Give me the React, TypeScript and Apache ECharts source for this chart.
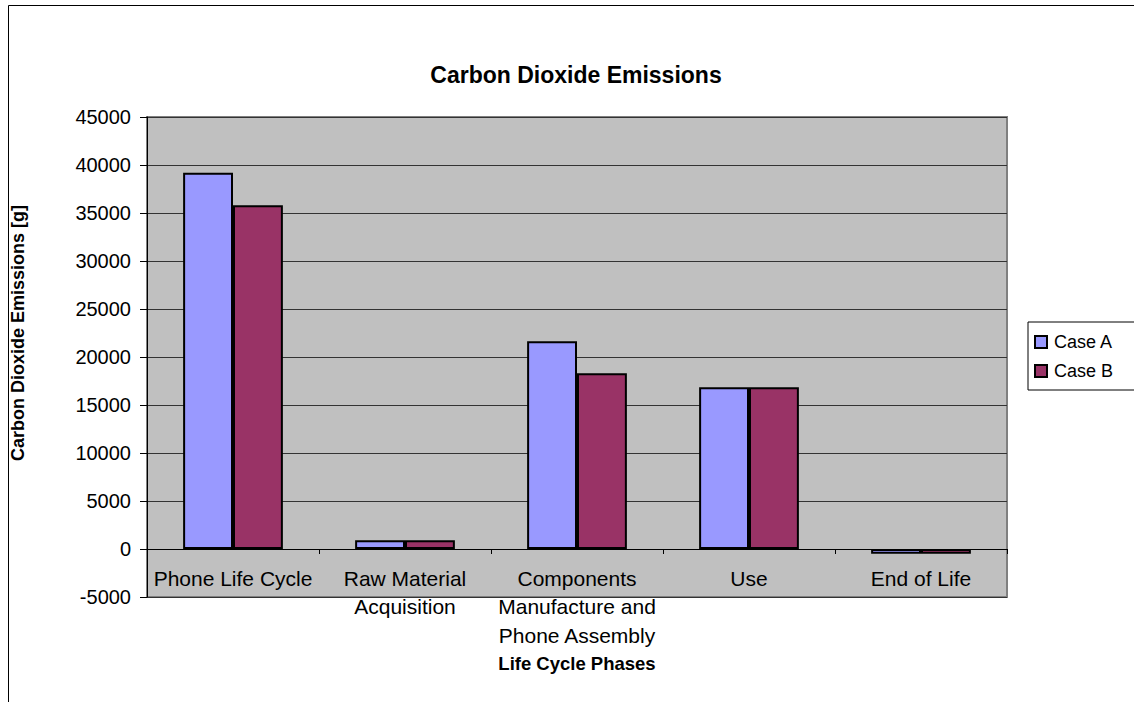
import React, { useEffect, useRef } from "react";
import * as echarts from "echarts";

const categories = [
  "Phone Life Cycle",
  "Raw Material\nAcquisition",
  "Components\nManufacture and\nPhone Assembly",
  "Use",
  "End of Life",
];
const caseA = [39200, 900, 21650, 16850, -500];
const caseB = [35800, 900, 18300, 16850, -500];
const yMin = -5000;
const yMax = 45000;
const yStep = 5000;

const FONT = "'Liberation Sans', Arial, sans-serif";

export default function App() {
  const ref = useRef<HTMLDivElement>(null);
  useEffect(() => {
    const chart = echarts.init(ref.current!, null, { renderer: "svg" });
    chart.setOption({
      animation: false,
      textStyle: { fontFamily: FONT, color: "#000" },
      title: {
        text: "Carbon Dioxide Emissions",
        left: 571,
        top: 58,
        textAlign: "center",
        textStyle: { fontSize: 23, fontWeight: "bold", color: "#000", fontFamily: FONT },
      },
      graphic: [
        {
          type: "rect",
          shape: { x: 8.5, y: 5.5, width: 1300, height: 900 },
          style: { fill: "none", stroke: "#000", lineWidth: 1 },
          silent: true,
          z: -10,
        },
      ],
      legend: {
        orient: "vertical",
        left: 1028,
        top: 322,
        padding: [11, 60, 10, 6],
        borderColor: "#000",
        borderWidth: 1,
        itemWidth: 12,
        itemHeight: 12,
        itemGap: 11,
        icon: "rect",
        textStyle: { fontSize: 18, color: "#000", fontFamily: FONT, padding: [0, 0, 0, 2] },
        data: ["Case A", "Case B"],
      },
      grid: {
        left: 147,
        top: 117,
        width: 860,
        height: 480,
        show: true,
        containLabel: false,
        outerBoundsMode: "none",
        backgroundColor: "#C0C0C0",
        borderColor: "#808080",
        borderWidth: 2,
      },
      xAxis: {
        type: "category",
        data: categories,
        name: "Life Cycle Phases",
        nameLocation: "middle",
        nameGap: 57,
        nameMoveOverlap: false,
        nameTextStyle: { fontSize: 18.5, fontWeight: "bold", color: "#000", fontFamily: FONT },
        axisLine: { onZero: true, lineStyle: { color: "#000", width: 1 } },
        axisTick: { show: true, length: 5, lineStyle: { color: "#000" } },
        axisLabel: {
          fontSize: 21,
          color: "#000",
          lineHeight: 28.5,
          margin: -33,
          interval: 0,
          fontFamily: FONT,
        },
        splitLine: { show: false },
      },
      yAxis: {
        type: "value",
        min: yMin,
        max: yMax,
        interval: yStep,
        name: "Carbon Dioxide Emissions [g]",
        nameLocation: "middle",
        nameGap: 120,
        nameMoveOverlap: false,
        nameTextStyle: {
          fontSize: 18,
          fontWeight: "bold",
          color: "#000",
          fontFamily: FONT,
          padding: [0, 0, 0, 48],
        },
        axisLine: { show: true, lineStyle: { color: "#000", width: 1 } },
        axisTick: { show: true, length: 7, lineStyle: { color: "#000" } },
        axisLabel: {
          fontSize: 20,
          color: "#000",
          margin: 16,
          fontFamily: FONT,
          formatter: (v: number) => String(v),
        },
        splitLine: { show: true, lineStyle: { color: "#333", width: 1 } },
      },
      series: [
        {
          name: "Case A",
          type: "bar",
          data: caseA,
          barGap: "0%",
          barCategoryGap: "42%",
          itemStyle: { color: "#9999FF", borderColor: "#000", borderWidth: 2 },
        },
        {
          name: "Case B",
          type: "bar",
          data: caseB,
          itemStyle: { color: "#993366", borderColor: "#000", borderWidth: 2 },
        },
      ],
    });
    return () => chart.dispose();
  }, []);
  return (
    <div
      ref={ref}
      style={{ position: "fixed", left: 0, top: 0, width: 1134, height: 702, background: "#fff" }}
    />
  );
}
